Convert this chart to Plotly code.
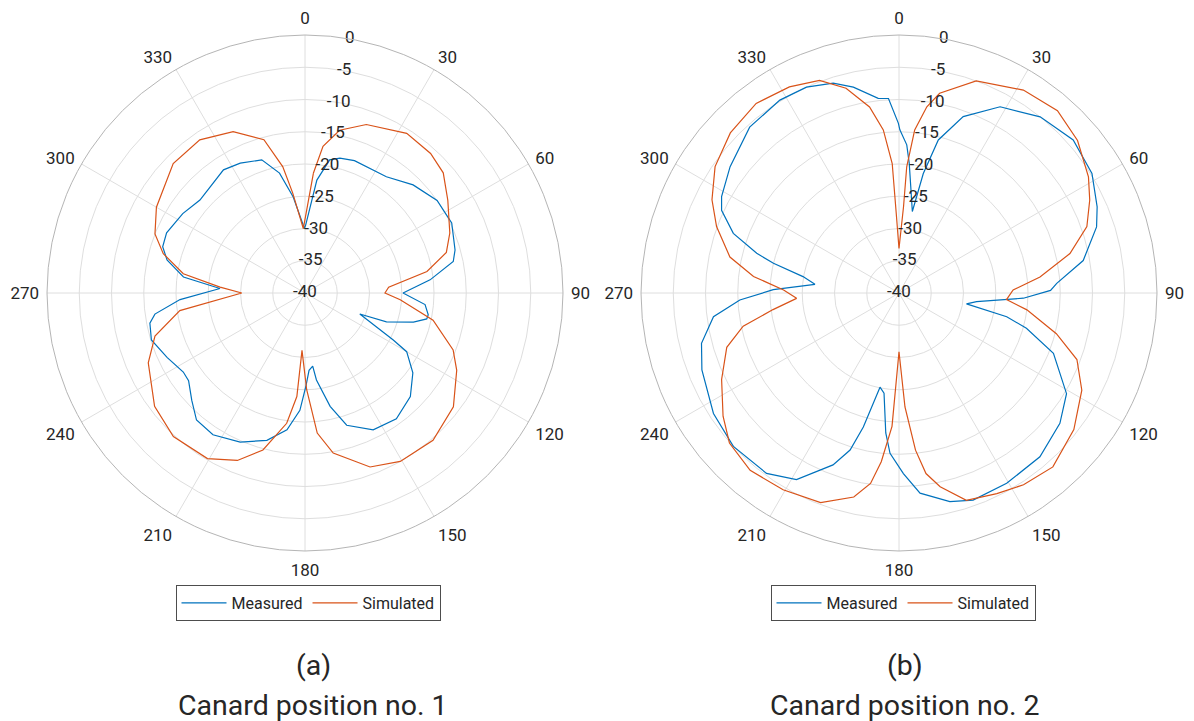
import plotly.graph_objects as go

# ---------------- data (angle in degrees, clockwise from top; gain in dB) ----------------
a_meas_theta = [0.5, 6, 10.5, 14.5, 20.5, 35, 45, 55, 64.5, 74, 78, 84, 90, 95.5, 100, 102, 105, 109.5, 111,
                118, 120, 126.5, 134.5, 144, 153.5, 162.5, 167.5, 172.5, 174, 177, 179.5, 182.5, 187.5, 194.5,
                203.5, 213, 220.5, 226.5, 233, 237, 245, 253, 259, 262, 267, 273, 277.5, 283.5, 288, 293.5,
                303, 311.5, 326.5, 333.5, 342, 348, 353, 359.5]
a_meas_r = [-29.5, -22.4, -19.0, -18.4, -18.1, -18.0, -16.3, -15.0, -14.8, -15.8, -16.5, -20.5, -24.8, -21.3,
            -20.6, -20.7, -22.6, -26.6, -30.9, -24.5, -21.8, -19.2, -17.1, -15.9, -16.3, -18.5, -22.0, -26.4,
            -28.6, -28.0, -25.5, -21.8, -18.6, -16.4, -14.8, -13.8, -14.1, -15.8, -17.4, -17.5, -16.4, -15.1,
            -15.5, -16.5, -20.6, -26.8, -21.0, -18.0, -16.8, -16.6, -17.4, -18.25, -17.1, -17.5, -18.3, -21.0,
            -25.0, -30.0]

a_sim_theta = [4, 7, 12, 20, 32.5, 42, 49, 57, 67.5, 74, 80, 86, 90, 94, 102, 111, 117, 127.5, 139, 150.5,
               159.5, 170, 175, 179, 183, 184.5, 188, 195, 202, 210.5, 222.5, 233, 246, 254, 262, 270, 274,
               279, 285.5, 291.5, 300, 314.5, 325.5, 336, 345, 350, 353, 358.5]
a_sim_r = [-21.4, -17.1, -14.2, -12.2, -10.65, -10.9, -11.6, -13.6, -15.7, -17.2, -20.8, -27.0, -27.6, -25.2,
           -19.7, -15.4, -13.6, -11.0, -9.75, -10.0, -11.2, -14.8, -18.2, -25.0, -31.1, -23.9, -19.6, -14.8,
           -12.0, -10.2, -9.8, -10.8, -13.4, -15.8, -20.4, -30.2, -26.8, -20.9, -17.2, -15.0, -13.4, -11.35,
           -11.2, -12.6, -15.4, -20.1, -24.4, -30.0]

b_meas_theta = [0.3, 3, 4.5, 6.3, 9.3, 11.5, 14.4, 20, 28.5, 38.7, 48.7, 58.2, 66.5, 71.5, 80, 86.5, 89,
                92.4, 96.4, 99.2, 102.4, 105.5, 111.3, 121, 129, 139.3, 150.5, 160.3, 166.3, 174, 178.6,
                183.2, 185.4, 188.5, 191.4, 194.9, 197.3, 201, 208.8, 216.3, 227.2, 237, 248.7, 255.7, 262.7,
                267.5, 271.5, 275.9, 279.7, 283.3, 285.6, 289.8, 295, 298.5, 306.8, 318, 328.3, 335.8, 342.6,
                347.5, 353.9, 356.9, 359.8]
b_meas_r = [-14.7, -17.0, -19.8, -23.4, -27.2, -21.1, -15.5, -10.9, -7.15, -5.0, -4.05, -4.8, -6.5, -7.7,
            -11.0, -15.5, -16.5, -20.7, -27.9, -29.4, -22.9, -19.5, -14.3, -9.7, -7.9, -6.5, -6.1, -5.9,
            -6.7, -8.8, -12.0, -15.1, -18.2, -24.3, -25.1, -18.5, -14.5, -11.45, -7.0, -5.3, -5.0, -5.7,
            -7.2, -8.4, -11.0, -15.3, -20.5, -26.9, -24.9, -20.0, -17.1, -12.7, -9.65, -8.7, -7.3, -5.4,
            -4.85, -5.0, -5.9, -7.3, -9.65, -9.8, -13.7]

b_sim_theta = [0, 3, 3.5, 5.5, 8.5, 11.5, 20, 31.5, 41, 49.5, 58.5, 64, 70.5, 77, 83.5, 88.5, 93.5, 97.5,
               104.5, 110.5, 118, 128, 138.5, 147, 154, 162, 168, 171.5, 174, 177, 180, 183, 186, 188.5,
               192.5, 200.5, 210.5, 220, 228.5, 235, 244, 252.5, 258, 262.5, 267, 271.5, 276.5, 282, 290,
               296.5, 304.5, 313.5, 323, 332, 339.5, 345.5, 351, 354.5, 357, 358]
b_sim_r = [-33.1, -26.6, -20.4, -14.6, -10.8, -8.4, -5.0, -3.1, -2.55, -3.6, -5.55, -7.1, -9.1, -12.8, -18.0,
           -22.3, -23.3, -20.0, -14.8, -10.55, -7.9, -5.6, -4.0, -4.55, -5.4, -6.2, -9.3, -11.7, -15.5,
           -22.3, -30.9, -19.3, -13.7, -10.15, -7.6, -5.3, -4.6, -4.1, -4.9, -6.7, -9.4, -12.0, -15.3,
           -20.3, -24.1, -22.1, -17.3, -13.2, -9.9, -7.6, -5.4, -3.95, -3.2, -3.8, -4.8, -7.2, -10.8,
           -14.6, -19.9, -27.6]

angle_ticks = list(range(0, 360, 30))
radial_ticks = [-40, -35, -30, -25, -20, -15, -10, -5, 0]
series_names = ["Measured", "Simulated"]
captions = [("(a)", "Canard position no. 1"), ("(b)", "Canard position no. 2")]

# ---------------- styling ----------------
BLUE = "#0072BD"
RED = "#D95319"
TXT = "#262626"
FONT = "Roboto"


def closed(t, r):
    return list(t) + [t[0]], list(r) + [r[0]]


fig = go.Figure()

panels = [
    ("polar", "legend", (a_meas_theta, a_meas_r), (a_sim_theta, a_sim_r)),
    ("polar2", "legend2", (b_meas_theta, b_meas_r), (b_sim_theta, b_sim_r)),
]

for sub, leg, meas, sim in panels:
    for (th, rr), name, col in [(meas, series_names[0], BLUE), (sim, series_names[1], RED)]:
        t, r = closed(th, rr)
        fig.add_trace(go.Scatterpolar(theta=t, r=r, mode="lines", name=name,
                                      line=dict(color=col, width=1.2), subplot=sub, legend=leg,
                                      hoverinfo="skip"))
    # radial tick labels drawn along the 10-degree ray
    fig.add_trace(go.Scatterpolar(theta=[10] * len(radial_ticks), r=radial_ticks, mode="text",
                                  text=[str(v) for v in radial_ticks], textposition="middle center",
                                  textfont=dict(family=FONT, size=17, color=TXT), cliponaxis=False,
                                  showlegend=False, hoverinfo="skip", subplot=sub))

W, H = 1194, 721
R = 258
cy = 293


def dom(cx):
    return dict(x=[(cx - R) / W, (cx + R) / W], y=[1 - (cy + R) / H, 1 - (cy - R) / H])


polar_common = dict(
    bgcolor="white",
    angularaxis=dict(direction="clockwise", rotation=90, tickvals=angle_ticks,
                     ticktext=[str(a) for a in angle_ticks], ticks="outside", ticklen=4,
                     tickcolor="rgba(0,0,0,0)", showline=True,
                     linecolor="#b5b5b5", linewidth=1, gridcolor="#dedede", gridwidth=1,
                     tickfont=dict(family=FONT, size=17, color=TXT)),
    radialaxis=dict(range=[-40, 0], tickvals=radial_ticks, showticklabels=False, ticks="",
                    showline=False, gridcolor="#dedede", gridwidth=1, angle=80),
)

legend_common = dict(orientation="h", xanchor="center", y=1 - 585 / H, yanchor="top",
                     bordercolor="#4d4d4d", borderwidth=1, bgcolor="white", itemwidth=45,
                     font=dict(family=FONT, size=16, color=TXT))

fig.update_layout(
    width=W, height=H,
    margin=dict(l=0, r=0, t=0, b=0),
    paper_bgcolor="white", plot_bgcolor="white",
    font=dict(family=FONT, color=TXT),
    polar=dict(domain=dom(305), **polar_common),
    polar2=dict(domain=dom(899), **polar_common),
    legend=dict(x=308 / W, **legend_common),
    legend2=dict(x=903 / W, **legend_common),
)

for cx, (lab, cap) in zip([313, 905], captions):
    fig.add_annotation(text=lab, x=cx / W, y=1 - 665 / H, xref="paper", yref="paper",
                       showarrow=False, xanchor="center", yanchor="middle",
                       font=dict(family=FONT, size=28.5, color=TXT))
    fig.add_annotation(text=cap, x=cx / W, y=1 - 705 / H, xref="paper", yref="paper",
                       showarrow=False, xanchor="center", yanchor="middle",
                       font=dict(family=FONT, size=28.5, color=TXT))

fig.write_html("out.html", config={"displayModeBar": False},
               post_script="document.body.style.margin='0';")
